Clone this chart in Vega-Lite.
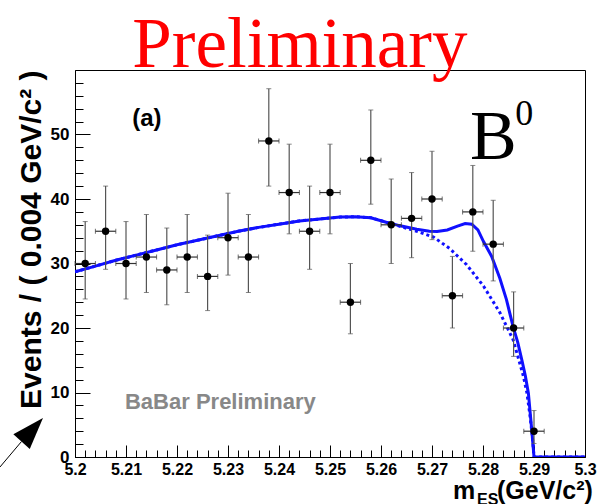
{
  "$schema": "https://vega.github.io/schema/vega-lite/v6.json",
  "width": 510,
  "height": 387,
  "autosize": {"type": "none"},
  "padding": {"left": 75, "top": 70, "right": 13, "bottom": 47},
  "background": "#ffffff",
  "config": {
    "view": {"stroke": "#000000", "strokeWidth": 1},
    "font": "Liberation Sans",
    "axis": {
      "grid": false,
      "labelColor": "#000000",
      "tickColor": "#000000",
      "domainColor": "#000000",
      "labelFont": "Liberation Sans",
      "labelFontWeight": "bold",
      "labelFlush": false,
      "labelBound": false,
      "labelOverlap": false
    }
  },
  "resolve": {"axis": {"x": "independent", "y": "independent"}},
  "datasets": {
    "pts": [
      {"x": 5.202, "n": 30, "lo": 24.5, "hi": 36.5, "xlo": 5.200, "xhi": 5.204},
      {"x": 5.206, "n": 35, "lo": 29.1, "hi": 42.0, "xlo": 5.204, "xhi": 5.208},
      {"x": 5.210, "n": 30, "lo": 24.5, "hi": 36.5, "xlo": 5.208, "xhi": 5.212},
      {"x": 5.214, "n": 31, "lo": 25.5, "hi": 37.6, "xlo": 5.212, "xhi": 5.216},
      {"x": 5.218, "n": 29, "lo": 23.6, "hi": 35.5, "xlo": 5.216, "xhi": 5.220},
      {"x": 5.222, "n": 31, "lo": 25.5, "hi": 37.6, "xlo": 5.220, "xhi": 5.224},
      {"x": 5.226, "n": 28, "lo": 22.7, "hi": 34.4, "xlo": 5.224, "xhi": 5.228},
      {"x": 5.230, "n": 34, "lo": 28.2, "hi": 40.9, "xlo": 5.228, "xhi": 5.232},
      {"x": 5.234, "n": 31, "lo": 25.5, "hi": 37.6, "xlo": 5.232, "xhi": 5.236},
      {"x": 5.238, "n": 49, "lo": 42.0, "hi": 57.1, "xlo": 5.236, "xhi": 5.240},
      {"x": 5.242, "n": 41, "lo": 34.6, "hi": 48.5, "xlo": 5.240, "xhi": 5.244},
      {"x": 5.246, "n": 35, "lo": 29.1, "hi": 42.0, "xlo": 5.244, "xhi": 5.248},
      {"x": 5.250, "n": 41, "lo": 34.6, "hi": 48.5, "xlo": 5.248, "xhi": 5.252},
      {"x": 5.254, "n": 24, "lo": 19.1, "hi": 30.0, "xlo": 5.252, "xhi": 5.256},
      {"x": 5.258, "n": 46, "lo": 39.2, "hi": 53.8, "xlo": 5.256, "xhi": 5.260},
      {"x": 5.262, "n": 36, "lo": 30.0, "hi": 43.1, "xlo": 5.260, "xhi": 5.264},
      {"x": 5.266, "n": 37, "lo": 30.9, "hi": 44.1, "xlo": 5.264, "xhi": 5.268},
      {"x": 5.270, "n": 40, "lo": 33.7, "hi": 47.4, "xlo": 5.268, "xhi": 5.272},
      {"x": 5.274, "n": 25, "lo": 20.0, "hi": 31.1, "xlo": 5.272, "xhi": 5.276},
      {"x": 5.278, "n": 38, "lo": 31.9, "hi": 45.2, "xlo": 5.276, "xhi": 5.280},
      {"x": 5.282, "n": 33, "lo": 27.3, "hi": 39.8, "xlo": 5.280, "xhi": 5.284},
      {"x": 5.286, "n": 20, "lo": 15.6, "hi": 25.6, "xlo": 5.284, "xhi": 5.288},
      {"x": 5.290, "n": 4, "lo": 2.1, "hi": 7.2, "xlo": 5.288, "xhi": 5.292}
    ],
    "total": [
      {"x": 5.200, "y": 28.7}, {"x": 5.204, "y": 29.6}, {"x": 5.208, "y": 30.5},
      {"x": 5.212, "y": 31.3}, {"x": 5.216, "y": 32.1}, {"x": 5.220, "y": 32.9},
      {"x": 5.224, "y": 33.6}, {"x": 5.228, "y": 34.3}, {"x": 5.232, "y": 35.0},
      {"x": 5.236, "y": 35.6}, {"x": 5.240, "y": 36.1}, {"x": 5.244, "y": 36.6},
      {"x": 5.248, "y": 36.9}, {"x": 5.252, "y": 37.2}, {"x": 5.255, "y": 37.25},
      {"x": 5.258, "y": 37.1}, {"x": 5.261, "y": 36.4}, {"x": 5.264, "y": 35.8},
      {"x": 5.267, "y": 35.3}, {"x": 5.2695, "y": 35.0}, {"x": 5.271, "y": 34.95},
      {"x": 5.273, "y": 35.2}, {"x": 5.275, "y": 35.8}, {"x": 5.2765, "y": 36.2},
      {"x": 5.2778, "y": 36.1}, {"x": 5.279, "y": 35.2}, {"x": 5.2801, "y": 33.4},
      {"x": 5.2817, "y": 31.1}, {"x": 5.2833, "y": 27.7}, {"x": 5.2846, "y": 24.4},
      {"x": 5.2859, "y": 20.2}, {"x": 5.2868, "y": 17.8}, {"x": 5.2876, "y": 15.1},
      {"x": 5.2883, "y": 12.6}, {"x": 5.2889, "y": 9.9}, {"x": 5.2895, "y": 4.7},
      {"x": 5.2899, "y": 1.0}, {"x": 5.2900, "y": 0}, {"x": 5.3000, "y": 0}
    ],
    "background": [
      {"x": 5.200, "y": 28.7}, {"x": 5.204, "y": 29.6}, {"x": 5.208, "y": 30.5},
      {"x": 5.212, "y": 31.3}, {"x": 5.216, "y": 32.1}, {"x": 5.220, "y": 32.9},
      {"x": 5.224, "y": 33.6}, {"x": 5.228, "y": 34.3}, {"x": 5.232, "y": 35.0},
      {"x": 5.236, "y": 35.6}, {"x": 5.240, "y": 36.1}, {"x": 5.244, "y": 36.6},
      {"x": 5.248, "y": 36.9}, {"x": 5.252, "y": 37.2}, {"x": 5.255, "y": 37.25},
      {"x": 5.258, "y": 37.1}, {"x": 5.261, "y": 36.4}, {"x": 5.264, "y": 35.7},
      {"x": 5.267, "y": 35.0}, {"x": 5.2703, "y": 34.1}, {"x": 5.2735, "y": 32.3},
      {"x": 5.2768, "y": 29.8}, {"x": 5.2801, "y": 26.5}, {"x": 5.2833, "y": 22.4},
      {"x": 5.2859, "y": 18.2}, {"x": 5.2879, "y": 12.6}, {"x": 5.2886, "y": 10.0},
      {"x": 5.2892, "y": 6.5}, {"x": 5.2897, "y": 3.0}, {"x": 5.2900, "y": 0},
      {"x": 5.3000, "y": 0}
    ],
    "one": [{}]
  },
  "layer": [
    {
      "data": {"name": "background"},
      "mark": {"type": "line", "color": "#1010ff", "strokeWidth": 3, "strokeDash": [3, 3], "clip": true},
      "encoding": {
        "x": {
          "field": "x", "type": "quantitative",
          "scale": {"domain": [5.2, 5.3], "nice": false, "zero": false},
          "axis": {
            "orient": "bottom",
            "values": [5.2, 5.21, 5.22, 5.23, 5.24, 5.25, 5.26, 5.27, 5.28, 5.29, 5.3],
            "format": ".2~f",
            "tickSize": -12,
            "labelPadding": 16,
            "labelFontSize": 16,
            "labelOverlap": false,
            "title": null
          }
        },
        "y": {
          "field": "y", "type": "quantitative",
          "scale": {"domain": [0, 60], "nice": false, "zero": false},
          "axis": {
            "orient": "left",
            "values": [0, 10, 20, 30, 40, 50],
            "format": "d",
            "tickSize": -15,
            "labelPadding": 21,
            "labelFontSize": 17,
            "labelOverlap": false,
            "title": "Events / ( 0.004 GeV/c² )",
            "titleFont": "Liberation Sans",
            "titleFontWeight": "bold",
            "titleFontSize": 30,
            "titleColor": "#000000",
            "titleX": -44,
            "titleY": 0,
            "titleAngle": -90,
            "titleAlign": "right",
            "titleBaseline": "middle"
          }
        }
      }
    },
    {
      "data": {"name": "total"},
      "mark": {"type": "line", "color": "#1010ff", "strokeWidth": 3, "clip": true},
      "encoding": {
        "x": {
          "field": "x", "type": "quantitative",
          "axis": {
            "orient": "bottom",
            "values": [5.202,5.204,5.206,5.208,5.212,5.214,5.216,5.218,5.222,5.224,5.226,5.228,5.232,5.234,5.236,5.238,5.242,5.244,5.246,5.248,5.252,5.254,5.256,5.258,5.262,5.264,5.266,5.268,5.272,5.274,5.276,5.278,5.282,5.284,5.286,5.288,5.292,5.294,5.296,5.298],
            "tickSize": -7,
            "labels": false,
            "domain": false,
            "title": null
          }
        },
        "y": {
          "field": "y", "type": "quantitative",
          "axis": {
            "orient": "left",
            "values": [2,4,6,8,12,14,16,18,22,24,26,28,32,34,36,38,42,44,46,48,52,54,56,58],
            "tickSize": -8,
            "labels": false,
            "domain": false,
            "title": null
          }
        }
      }
    },
    {
      "data": {"name": "pts"},
      "mark": {"type": "rule", "color": "#555555", "strokeWidth": 1.2},
      "encoding": {
        "x": {"field": "x", "type": "quantitative", "axis": null},
        "y": {"field": "lo", "type": "quantitative", "axis": null},
        "y2": {"field": "hi"}
      }
    },
    {
      "data": {"name": "pts"},
      "mark": {"type": "rule", "color": "#333333", "strokeWidth": 1.2},
      "encoding": {
        "x": {"field": "xlo", "type": "quantitative", "axis": null},
        "x2": {"field": "xhi"},
        "y": {"field": "n", "type": "quantitative", "axis": null}
      }
    },
    {
      "data": {"name": "pts"},
      "mark": {"type": "tick", "orient": "horizontal", "color": "#555555", "size": 5, "thickness": 1},
      "encoding": {
        "x": {"field": "x", "type": "quantitative", "axis": null},
        "y": {"field": "lo", "type": "quantitative", "axis": null}
      }
    },
    {
      "data": {"name": "pts"},
      "mark": {"type": "tick", "orient": "horizontal", "color": "#555555", "size": 5, "thickness": 1},
      "encoding": {
        "x": {"field": "x", "type": "quantitative", "axis": null},
        "y": {"field": "hi", "type": "quantitative", "axis": null}
      }
    },
    {
      "data": {"name": "pts"},
      "mark": {"type": "tick", "orient": "vertical", "color": "#333333", "size": 5, "thickness": 1},
      "encoding": {
        "x": {"field": "xlo", "type": "quantitative", "axis": null},
        "y": {"field": "n", "type": "quantitative", "axis": null}
      }
    },
    {
      "data": {"name": "pts"},
      "mark": {"type": "tick", "orient": "vertical", "color": "#333333", "size": 5, "thickness": 1},
      "encoding": {
        "x": {"field": "xhi", "type": "quantitative", "axis": null},
        "y": {"field": "n", "type": "quantitative", "axis": null}
      }
    },
    {
      "data": {"name": "pts"},
      "mark": {"type": "point", "filled": true, "shape": "circle", "color": "#000000", "size": 55, "opacity": 1},
      "encoding": {
        "x": {"field": "x", "type": "quantitative", "axis": null},
        "y": {"field": "n", "type": "quantitative", "axis": null}
      }
    },
    {
      "data": {"name": "one"},
      "mark": {"type": "text", "text": "Preliminary", "font": "Liberation Serif", "fontSize": 71, "align": "center", "baseline": "alphabetic", "color": "#ff0000"},
      "encoding": {
        "x": {"datum": 5.2441, "type": "quantitative", "axis": null},
        "y": {"datum": 60.5, "type": "quantitative", "axis": null}
      }
    },
    {
      "data": {"name": "one"},
      "mark": {"type": "text", "text": "(a)", "font": "Liberation Sans", "fontWeight": "bold", "fontSize": 24, "align": "center", "baseline": "alphabetic", "color": "#000000"},
      "encoding": {
        "x": {"datum": 5.2141, "type": "quantitative", "axis": null},
        "y": {"datum": 51.3, "type": "quantitative", "axis": null}
      }
    },
    {
      "data": {"name": "one"},
      "mark": {"type": "text", "text": "BaBar Preliminary", "font": "Liberation Sans", "fontWeight": "bold", "fontSize": 22, "align": "left", "baseline": "alphabetic", "color": "#888888"},
      "encoding": {
        "x": {"datum": 5.2098, "type": "quantitative", "axis": null},
        "y": {"datum": 7.44, "type": "quantitative", "axis": null}
      }
    },
    {
      "data": {"name": "one"},
      "mark": {"type": "text", "text": "B", "font": "Liberation Serif", "fontSize": 70, "align": "left", "baseline": "alphabetic", "color": "#000000"},
      "encoding": {
        "x": {"datum": 5.27745, "type": "quantitative", "axis": null},
        "y": {"datum": 46.2, "type": "quantitative", "axis": null}
      }
    },
    {
      "data": {"name": "one"},
      "mark": {"type": "text", "text": "0", "font": "Liberation Serif", "fontSize": 36, "align": "left", "baseline": "alphabetic", "color": "#000000"},
      "encoding": {
        "x": {"datum": 5.2863, "type": "quantitative", "axis": null},
        "y": {"datum": 51.5, "type": "quantitative", "axis": null}
      }
    },
    {
      "data": {"name": "one"},
      "mark": {"type": "text", "text": "m", "font": "Liberation Sans", "fontWeight": "bold", "fontSize": 25, "align": "left", "baseline": "alphabetic", "color": "#000000"},
      "encoding": {
        "x": {"datum": 5.27412, "type": "quantitative", "axis": null},
        "y": {"datum": -6.51, "type": "quantitative", "axis": null}
      }
    },
    {
      "data": {"name": "one"},
      "mark": {"type": "text", "text": "ES", "font": "Liberation Sans", "fontWeight": "bold", "fontSize": 16, "align": "left", "baseline": "alphabetic", "color": "#000000"},
      "encoding": {
        "x": {"datum": 5.27882, "type": "quantitative", "axis": null},
        "y": {"datum": -7.5, "type": "quantitative", "axis": null}
      }
    },
    {
      "data": {"name": "one"},
      "mark": {"type": "text", "text": "(GeV/c²)", "font": "Liberation Sans", "fontWeight": "bold", "fontSize": 25, "align": "left", "baseline": "alphabetic", "color": "#000000"},
      "encoding": {
        "x": {"datum": 5.28275, "type": "quantitative", "axis": null},
        "y": {"datum": -6.51, "type": "quantitative", "axis": null}
      }
    },
    {
      "data": {"name": "one"},
      "mark": {"type": "rule", "color": "#000000", "strokeWidth": 1},
      "encoding": {
        "x": {"datum": 5.18529, "type": "quantitative", "axis": null},
        "y": {"datum": -1.55, "type": "quantitative", "axis": null},
        "x2": {"datum": 5.18951},
        "y2": {"datum": 2.4}
      }
    },
    {
      "data": {"name": "one"},
      "mark": {"type": "point", "filled": true, "shape": "M0,-1L0.69,1L-0.69,1Z", "color": "#000000", "size": 1024, "angle": 42, "opacity": 1},
      "encoding": {
        "x": {"datum": 5.19162, "type": "quantitative", "axis": null},
        "y": {"datum": 4.22, "type": "quantitative", "axis": null}
      }
    }
  ]
}
